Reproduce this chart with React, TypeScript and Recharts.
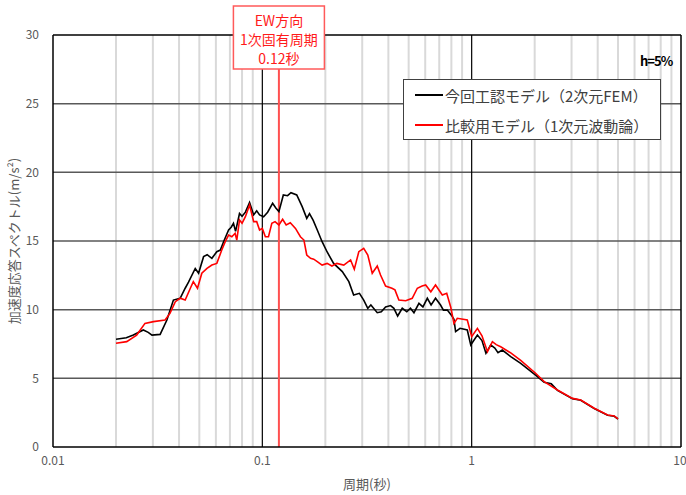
import React from "react";
import {
  LineChart,
  Line,
  XAxis,
  YAxis,
  ReferenceLine,
  Legend,
} from "recharts";

// 今回工認モデル（2次元FEM）
const femPeriod = [
  0.02, 0.0224, 0.0242, 0.027, 0.0285, 0.0297, 0.0325, 0.035, 0.0376, 0.0405,
  0.0428, 0.0444, 0.0478, 0.0496, 0.0524, 0.0545, 0.0574, 0.0606, 0.063, 0.0653,
  0.069, 0.071, 0.0728, 0.0745, 0.0778, 0.08, 0.083, 0.0869, 0.0909, 0.094,
  0.097, 0.1014, 0.106, 0.112, 0.116, 0.12, 0.126, 0.132, 0.137, 0.146,
  0.155, 0.163, 0.168, 0.175, 0.183, 0.193, 0.204, 0.219, 0.241, 0.259,
  0.273, 0.291, 0.305, 0.319, 0.33, 0.354, 0.37, 0.388, 0.41, 0.425,
  0.443, 0.466, 0.49, 0.51, 0.53, 0.56, 0.585, 0.614, 0.64, 0.672,
  0.71, 0.733, 0.765, 0.8, 0.823, 0.838, 0.88, 0.953, 0.99, 1.065,
  1.12, 1.17, 1.233, 1.29, 1.336, 1.4, 1.537, 1.715, 2.02, 2.22,
  2.4, 2.57, 3.03, 3.32, 3.85, 4.46, 4.8, 5.0,
];
const femAccel = [
  7.84, 7.95, 8.15, 8.52, 8.35, 8.15, 8.2, 9.25, 10.7, 10.83,
  11.56, 12.0, 13.0, 12.65, 13.86, 14.0, 13.74, 14.22, 14.34, 14.95,
  15.8, 16.0, 16.29, 15.7, 17.0, 16.8, 17.1, 17.8, 16.9, 17.2,
  16.9, 16.77, 17.1, 17.74, 17.4, 17.14, 18.35, 18.3, 18.52, 18.35,
  17.5, 16.65, 17.0, 16.5, 15.8, 14.95, 14.2, 13.37, 12.77, 12.04,
  11.07, 11.19, 10.7, 10.1, 10.34, 9.78, 9.85, 10.2, 10.3, 10.1,
  9.54, 10.1, 9.85, 10.1, 9.78, 10.46, 10.2, 10.83, 10.34, 10.83,
  10.34, 9.97, 9.97, 9.6, 9.3, 8.4, 8.64, 8.52, 7.43, 8.15,
  7.75, 6.82, 7.43, 7.2, 6.87, 7.06, 6.58, 6.09, 5.24, 4.72,
  4.6, 4.12, 3.52, 3.4, 2.8, 2.31, 2.24, 2.04,
];

// 比較用モデル（1次元波動論）
const wavePeriod = [
  0.02, 0.0225, 0.0251, 0.0275, 0.0302, 0.0343, 0.0362, 0.0384, 0.0405, 0.0428,
  0.0453, 0.0468, 0.049, 0.0514, 0.0544, 0.0574, 0.0606, 0.064, 0.0665, 0.069,
  0.0715, 0.0741, 0.0755, 0.0778, 0.08, 0.083, 0.0869, 0.0909, 0.094, 0.097,
  0.1, 0.1034, 0.107, 0.111, 0.115, 0.12, 0.125, 0.13, 0.136, 0.144,
  0.152, 0.158, 0.163, 0.17, 0.176, 0.183, 0.193, 0.204, 0.215, 0.227,
  0.245, 0.264, 0.275, 0.289, 0.305, 0.319, 0.335, 0.354, 0.367, 0.388,
  0.416, 0.43, 0.449, 0.484, 0.52, 0.55, 0.58, 0.603, 0.638, 0.672,
  0.724, 0.76, 0.794, 0.823, 0.854, 0.953, 1.0, 1.065, 1.12, 1.19,
  1.256, 1.31, 1.376, 1.537, 1.715, 2.02, 2.22, 2.57, 3.03, 3.32,
  3.85, 4.46, 4.8, 5.0,
];
const waveAccel = [
  7.55, 7.67, 8.15, 9.0, 9.13, 9.25, 9.73, 10.58, 10.83, 10.7,
  11.56, 12.04, 11.56, 12.65, 13.0, 13.25, 13.37, 14.34, 14.95, 15.43,
  15.31, 15.56, 15.07, 16.53, 16.29, 16.77, 17.62, 16.41, 16.41, 15.8,
  15.92, 15.31, 15.31, 16.29, 16.41, 16.17, 16.58, 16.17, 16.33, 15.92,
  15.31, 15.07, 13.98, 13.74, 13.68, 13.5, 13.25, 13.37, 13.18, 13.37,
  13.25, 13.62, 12.94, 14.22, 14.47, 13.98, 12.65, 13.18, 12.52, 11.72,
  11.56, 11.44, 10.7, 10.65, 10.83, 11.56, 11.72, 11.8, 11.3, 11.8,
  11.07, 11.19, 10.2, 9.0, 9.37, 9.25, 8.03, 8.64, 8.1, 6.94,
  7.67, 7.45, 7.3, 6.85, 6.3, 5.37, 4.76, 4.15, 3.54, 3.42,
  2.82, 2.33, 2.26, 2.04,
];

const xTicks = [0.01, 0.1, 1, 10];
const yTicks = [0, 5, 10, 15, 20, 25, 30];
const minorPeriods = [
  0.02, 0.03, 0.04, 0.05, 0.06, 0.07, 0.08, 0.09,
  0.2, 0.3, 0.4, 0.5, 0.6, 0.7, 0.8, 0.9,
  2, 3, 4, 5, 6, 7, 8, 9,
];
const majorPeriods = [0.1, 1];
const gridAccel = [5, 10, 15, 20, 25];
const naturalPeriod = 0.12;
const periodNote = ["EW方向", "1次固有周期", "0.12秒"];

const seriesNames = ["今回工認モデル（2次元FEM）", "比較用モデル（1次元波動論）"];
const seriesColors = ["#000000", "#ff0000"];

const femData = femPeriod.map((p, i) => ({ period: p, accel: femAccel[i] }));
const waveData = wavePeriod.map((p, i) => ({ period: p, accel: waveAccel[i] }));

const FONT = '"Noto Sans CJK JP", "Noto Sans", sans-serif';
const GRAY = "#595959";

function PeriodNote(props: any) {
  const cx = props.viewBox.x;
  return (
    <g>
      <rect x={cx - 45.5} y={6} width={91} height={63} fill="#ffffff" stroke="#ff5a5a" strokeWidth={1.5} />
      {periodNote.map((t, i) => (
        <text
          key={t}
          x={cx}
          y={20 + i * 19}
          textAnchor="middle"
          dominantBaseline="central"
          fill="#ff1a1a"
          fontSize={14}
          fontFamily={FONT}
        >
          {t}
        </text>
      ))}
    </g>
  );
}

function LegendBox() {
  return (
    <div
      style={{
        width: 256,
        height: 59,
        border: "1px solid #404040",
        background: "#fff",
        fontFamily: FONT,
        fontSize: 15,
        color: "#404040",
        boxSizing: "content-box",
      }}
    >
      {seriesNames.map((name, i) => (
        <div key={name} style={{ display: "flex", alignItems: "center", height: 30, paddingLeft: 11 }}>
          <div style={{ width: 28, height: 2, background: seriesColors[i], marginRight: 2, flexShrink: 0 }} />
          <span style={{ whiteSpace: "nowrap" }}>{name}</span>
        </div>
      ))}
    </div>
  );
}

export default function App() {
  return (
    <div style={{ position: "absolute", left: 0, top: 0, width: 686, height: 495, background: "#fff" }}>
      <LineChart
        width={686}
        height={495}
        margin={{ top: 35, right: 5, left: 0, bottom: 0 }}
        style={{ fontFamily: FONT }}
      >
        <XAxis
          type="number"
          dataKey="period"
          scale="log"
          domain={[0.01, 10]}
          ticks={xTicks}
          tickFormatter={(v: number) => String(v)}
          allowDataOverflow
          height={48}
          tickLine={false}
          tickSize={6}
          tickMargin={3}
          axisLine={{ stroke: "#000", strokeWidth: 1.5 }}
          tick={{ fill: GRAY, fontSize: 12 }}
          label={{ value: "周期(秒)", position: "insideBottom", offset: 6, fill: GRAY, fontSize: 13 }}
        />
        <YAxis
          type="number"
          domain={[0, 30]}
          ticks={yTicks}
          width={53}
          tickLine={false}
          tickMargin={8}
          axisLine={{ stroke: "#000", strokeWidth: 1.5 }}
          tick={{ fill: GRAY, fontSize: 12 }}
          label={{
            value: "加速度応答スペクトル(m/s²)",
            angle: -90,
            position: "insideLeft",
            offset: 14,
            fill: GRAY,
            fontSize: 13,
            style: { textAnchor: "middle" },
          }}
        />
        {minorPeriods.map((p) => (
          <ReferenceLine key={`m${p}`} x={p} stroke="#d9d9d9" strokeWidth={2} />
        ))}
        {gridAccel.map((v) => (
          <ReferenceLine key={`h${v}`} y={v} stroke="#595959" strokeWidth={1.5} />
        ))}
        {majorPeriods.map((p) => (
          <ReferenceLine key={`M${p}`} x={p} stroke="#000" strokeWidth={1.2} />
        ))}
        <ReferenceLine y={30} stroke="#000" strokeWidth={1.5} />
        <ReferenceLine x={10} stroke="#000" strokeWidth={1.5} />
        <ReferenceLine
          x={naturalPeriod}
          stroke="#ff5050"
          strokeWidth={2}
          label={<PeriodNote />}
        />
        <Line
          data={femData}
          dataKey="accel"
          name={seriesNames[0]}
          stroke={seriesColors[0]}
          strokeWidth={1.6}
          dot={false}
          type="linear"
          isAnimationActive={false}
        />
        <Line
          data={waveData}
          dataKey="accel"
          name={seriesNames[1]}
          stroke={seriesColors[1]}
          strokeWidth={1.6}
          dot={false}
          type="linear"
          isAnimationActive={false}
        />
        <Legend
          layout="horizontal"
          align="center"
          verticalAlign="middle"
          content={() => <LegendBox />}
          wrapperStyle={{ left: 403, top: 79, width: 258, height: 61 }}
        />
      </LineChart>
      <div
        style={{
          position: "absolute",
          left: 640,
          top: 51,
          fontFamily: FONT,
          fontWeight: 700,
          fontSize: 13,
          letterSpacing: -1,
          color: "#000",
        }}
      >
        h=5%
      </div>
    </div>
  );
}
